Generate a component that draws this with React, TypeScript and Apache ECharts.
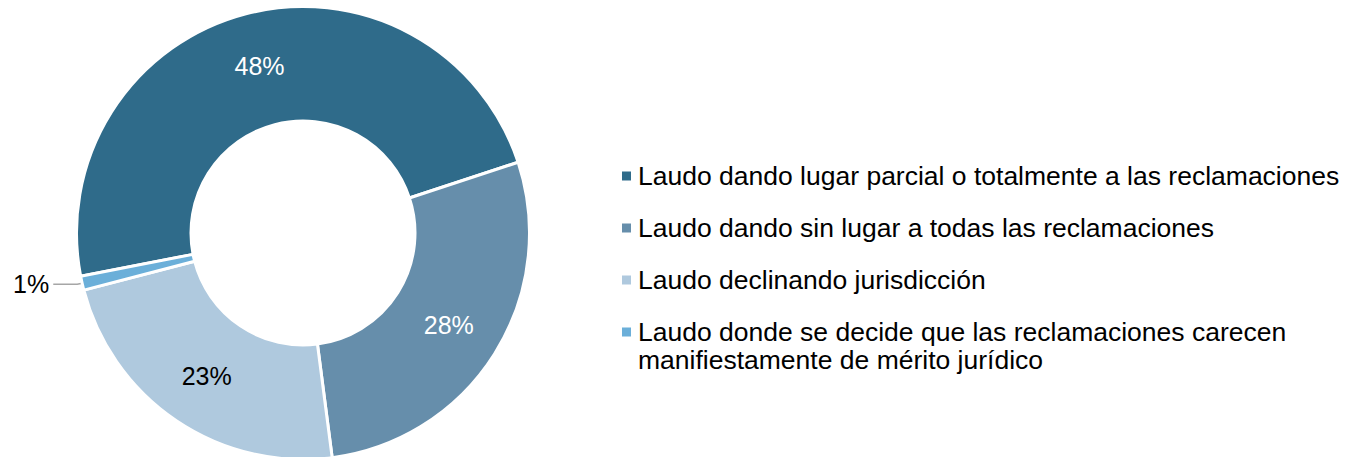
import React, { useEffect, useRef } from "react";
import * as echarts from "echarts";

const categories = [
  "Laudo dando lugar parcial o totalmente a las reclamaciones",
  "Laudo dando sin lugar a todas las reclamaciones",
  "Laudo declinando jurisdicción",
  "Laudo donde se decide que las reclamaciones carecen\nmanifiestamente de mérito jurídico",
];
const values = [48, 28, 23, 1];
const colors = ["#2F6B8A", "#668EAB", "#AFC9DE", "#6BAFD9"];
const labelColors = ["#FFFFFF", "#FFFFFF", "#000000", "#000000"];

const FONT = "'Liberation Sans', Arial, Helvetica, sans-serif";

export default function App() {
  const ref = useRef<HTMLDivElement>(null);
  useEffect(() => {
    if (!ref.current) return;
    const chart = echarts.init(ref.current, undefined, { renderer: "svg" });
    const data = categories.map((name, i) => {
      const item: any = {
        name,
        value: values[i],
        itemStyle: { color: colors[i] },
        label: { color: labelColors[i] },
      };
      if (i === 3) {
        item.label = {
          position: "outside",
          color: labelColors[i],
          distanceToLabelLine: 4,
        };
        item.labelLine = {
          show: true,
          length: 5,
          length2: 24,
          lineStyle: { color: "#A6A6A6", width: 1.5 },
        };
      }
      return item;
    });
    const legendText = {
      fontFamily: FONT,
      fontSize: 26.5,
      lineHeight: 28,
      color: "#000000",
      padding: [0, 0, 0, 2],
    };
    chart.setOption({
      animation: false,
      backgroundColor: "#FFFFFF",
      legend: [
        {
          orient: "vertical",
          left: 622,
          top: 162,
          padding: 0,
          itemWidth: 9,
          itemHeight: 9,
          itemGap: 24,
          icon: "rect",
          selectedMode: false,
          itemStyle: { borderWidth: 0 },
          textStyle: legendText,
          data: categories.slice(0, 3),
        },
        {
          orient: "vertical",
          left: 622,
          top: 318,
          padding: 0,
          itemWidth: 9,
          itemHeight: 37,
          icon: "path://M0,0L9,0L9,9L0,9ZM0,37L0.01,37L0.01,37.01L0,37.01Z",
          selectedMode: false,
          itemStyle: { borderWidth: 0 },
          textStyle: legendText,
          data: categories.slice(3),
        },
      ],
      series: [
        {
          type: "pie",
          center: [303, 233],
          radius: [112, 226.5],
          startAngle: 191,
          clockwise: true,
          avoidLabelOverlap: false,
          itemStyle: { borderColor: "#FFFFFF", borderWidth: 3 },
          label: {
            show: true,
            position: "inside",
            fontFamily: FONT,
            fontSize: 25,
            formatter: (p: any) => `${p.value}%`,
          },
          labelLine: { show: false },
          emphasis: { disabled: true },
          data,
        },
      ],
    });
    return () => chart.dispose();
  }, []);
  return (
    <div
      ref={ref}
      style={{ position: "absolute", left: 0, top: 0, width: 1358, height: 457 }}
    />
  );
}
